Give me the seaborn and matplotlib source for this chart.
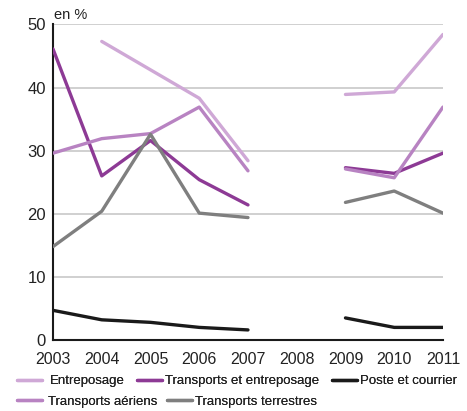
import numpy as np
import pandas as pd
import matplotlib
matplotlib.use("Agg")
import matplotlib.pyplot as plt
from matplotlib.lines import Line2D
import seaborn as sns

years = [2003, 2004, 2005, 2006, 2007, 2008, 2009, 2010, 2011]
entreposage = [np.nan, 47.3, 42.8, 38.3, 28.4, np.nan, 38.9, 39.3, 48.4]
transports_entreposage = [46.1, 26.0, 31.6, 25.4, 21.4, np.nan, 27.3, 26.4, 29.6]
poste_courrier = [4.7, 3.2, 2.8, 2.0, 1.6, np.nan, 3.5, 2.0, 2.0]
transports_aeriens = [29.6, 31.9, 32.7, 36.9, 26.8, np.nan, 27.1, 25.7, 36.9]
transports_terrestres = [14.8, 20.4, 32.6, 20.1, 19.4, np.nan, 21.8, 23.6, 20.1]

series_names = ["Entreposage", "Transports et entreposage", "Poste et courrier",
                "Transports aériens", "Transports terrestres"]
series_values = [entreposage, transports_entreposage, poste_courrier,
                 transports_aeriens, transports_terrestres]
colors = {"Entreposage": "#cfa8d6",
          "Transports et entreposage": "#8d3a95",
          "Poste et courrier": "#1a1a1a",
          "Transports aériens": "#b883c2",
          "Transports terrestres": "#7f7f7f"}

rows = []
for name, vals in zip(series_names, series_values):
    for y, v in zip(years, vals):
        if not np.isnan(v):
            rows.append({"year": y, "value": v, "series": name,
                         "segment": f"{name}-{0 if y < 2008 else 1}"})
df = pd.DataFrame(rows)

sns.set_style("white")
plt.rcParams["font.family"] = ["Liberation Sans", "DejaVu Sans"]

fig = plt.figure(figsize=(4.67, 4.11), dpi=100)
ax = fig.add_axes([0.1135, 0.1727, 0.835, 0.768])

sns.lineplot(data=df, x="year", y="value", hue="series", units="segment",
             estimator=None, palette=colors, hue_order=series_names,
             linewidth=2.4, ax=ax, legend=False, zorder=3)

ax.set_xlim(2003, 2011)
ax.set_ylim(0, 50)
ax.set_xticks(years)
ax.set_xticklabels([str(y) for y in years], fontsize=11.5, color="#222222")
ax.set_yticks([0, 10, 20, 30, 40, 50])
ax.set_yticklabels(["0", "10", "20", "30", "40", "50"], fontsize=12, color="#222222")
ax.yaxis.grid(True, color="#c8c8c8", linewidth=1.2, zorder=0)
ax.xaxis.grid(False)
for s in ["top", "right"]:
    ax.spines[s].set_visible(False)
for s in ["left", "bottom"]:
    ax.spines[s].set_color("#1a1a1a")
    ax.spines[s].set_linewidth(1.5)
ax.tick_params(axis="x", direction="in", length=6, width=1, color="#1a1a1a", pad=8.5)
ax.tick_params(axis="y", length=0, pad=5)
ax.set_xlabel("")
ax.set_ylabel("")
ax.text(0.002, 1.008, "en %", transform=ax.transAxes, fontsize=10.5,
        ha="left", va="bottom", color="#222222")

# legend entries: (name, left x px, center y px, handletextpad)
legend_spots = [("Entreposage", 17, 381, 0.6),
                ("Transports et entreposage", 137, 381, 0.2),
                ("Poste et courrier", 332, 381, 0.2),
                ("Transports aériens", 17, 401.5, 0.45),
                ("Transports terrestres", 167, 401.5, 0.2)]
W, H = 467.0, 411.0
for name, xp, yp, tp in legend_spots:
    h = Line2D([], [], color=colors[name], linewidth=2.4)
    leg = fig.legend([h], [name], loc="center left",
                     bbox_to_anchor=(xp / W, 1 - yp / H), frameon=False,
                     fontsize=9.5, handlelength=1.9, handletextpad=tp,
                     borderaxespad=0, borderpad=0, labelcolor="#222222")
    fig.add_artist(leg)

fig.savefig("out.png", dpi=100)
